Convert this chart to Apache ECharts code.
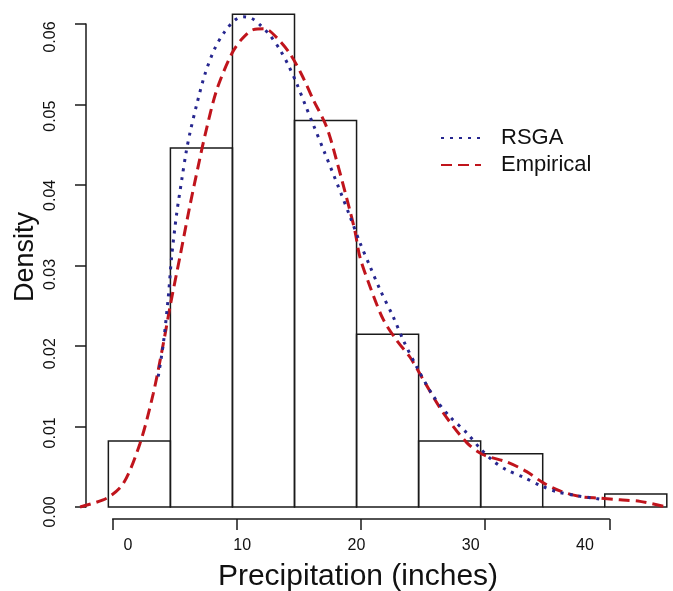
<!DOCTYPE html>
<html>
<head>
<meta charset="utf-8">
<script src="https://cdn.jsdelivr.net/npm/echarts@6/dist/echarts.min.js"></script>
<style>
html,body{margin:0;padding:0;background:#fff;}
#chart{width:673px;height:591px;}
</style>
</head>
<body>
<div id="chart"></div>
<script>
// ---- data ----
const binStarts = [-0.35, 4.65, 9.65, 14.65, 19.65, 24.65, 29.65, 34.65, 39.65];
const binEnds   = [4.65, 9.65, 14.65, 19.65, 24.65, 29.65, 34.65, 39.65, 44.65];
const binDensity = [0.0082, 0.0446, 0.0612, 0.0480, 0.02145, 0.0082, 0.0066, 0.0, 0.0016];

const rsgaX = [3.67, 4.08, 4.48, 4.75, 5.16, 5.56, 5.91, 6.23, 6.77, 7.44, 8.24, 9.05, 9.86, 10.52, 11.20, 11.87, 12.67, 13.48, 14.15, 14.83, 15.50, 16.16, 17.11, 18.18, 19.12, 19.93, 20.73, 21.54, 22.61, 23.42, 24.50, 25.83, 27.18, 28.53, 29.60, 30.67, 31.75, 33.09, 34.43, 35.78, 37.39, 38.73, 39.53];
const rsgaY = [0.0162, 0.0203, 0.0261, 0.0311, 0.0365, 0.0406, 0.0440, 0.0465, 0.0500, 0.0538, 0.0570, 0.0591, 0.0605, 0.0609, 0.0607, 0.0599, 0.0586, 0.0568, 0.0549, 0.0526, 0.0500, 0.0475, 0.0439, 0.0398, 0.0361, 0.0328, 0.0299, 0.0270, 0.0236, 0.0207, 0.0174, 0.0138, 0.0112, 0.0092, 0.0073, 0.0057, 0.0046, 0.0037, 0.0027, 0.0019, 0.0014, 0.0011, 0.0009];

const empX = [-2.63, -0.48, 0.85, 2.20, 3.27, 4.08, 4.67, 5.42, 6.23, 6.90, 7.44, 8.38, 9.59, 10.39, 11.33, 12.27, 13.22, 14.29, 15.23, 16.16, 17.24, 18.05, 19.12, 19.53, 19.93, 20.73, 21.80, 22.88, 23.96, 25.03, 26.64, 28.53, 29.86, 31.75, 33.36, 34.70, 36.04, 37.65, 39.27, 40.88, 42.49, 44.37];
const empY = [0.0000, 0.0011, 0.0029, 0.0079, 0.0141, 0.0203, 0.0253, 0.0311, 0.0375, 0.0424, 0.0462, 0.0518, 0.0563, 0.0581, 0.0593, 0.0594, 0.0583, 0.0563, 0.0537, 0.0506, 0.0472, 0.0430, 0.0368, 0.0342, 0.0310, 0.0274, 0.0233, 0.0207, 0.0186, 0.0158, 0.0117, 0.0080, 0.0065, 0.0056, 0.0044, 0.0030, 0.0020, 0.0013, 0.0011, 0.0009, 0.0007, 0.0001];

const seriesNames = ['RSGA', 'Empirical'];
const xTicks = [0, 10, 20, 30, 40];
const yTicks = [0, 0.01, 0.02, 0.03, 0.04, 0.05, 0.06];
const xTitle = 'Precipitation (inches)';
const yTitle = 'Density';

// ---- chart ----
const chart = echarts.init(document.getElementById('chart'), null, {renderer: 'canvas'});
const FONT = '"Liberation Sans", Arial, sans-serif';
const INK = '#1a1a1a';

const histData = binStarts.map((s, i) => [s, binEnds[i], binDensity[i]]);
const rsgaData = rsgaX.map((x, i) => [x, rsgaY[i]]);
const empData = empX.map((x, i) => [x, empY[i]]);

chart.setOption({
  animation: false,
  backgroundColor: '#ffffff',
  grid: [
    {left: 75.47, right: 1.85, top: 3.875, bottom: 84},   // data
    {left: 112.7, right: 63.7, top: 24, bottom: 84},      // tick axes
    {left: 128, right: 88, top: 37, bottom: 79}           // tick labels
  ],
  xAxis: [
    {gridIndex: 0, type: 'value', min: -3, max: 45, show: false},
    {gridIndex: 1, type: 'value', min: xTicks[0], max: xTicks[xTicks.length-1], interval: 10, offset: 12,
     axisLine: {show: true, onZero: false, lineStyle: {color: INK, width: 1.5}},
     axisTick: {show: true, length: 11, lineStyle: {color: INK, width: 1.5}},
     axisLabel: {show: false}, splitLine: {show: false}},
    {gridIndex: 2, type: 'value', min: xTicks[0], max: xTicks[xTicks.length-1], interval: 10,
     axisLine: {show: false, onZero: false}, axisTick: {show: false}, splitLine: {show: false},
     axisLabel: {show: true, margin: 26, fontSize: 16, fontFamily: FONT, color: '#111'}}
  ],
  yAxis: [
    {gridIndex: 0, type: 'value', min: 0, max: 0.0625, show: false},
    {gridIndex: 1, type: 'value', min: yTicks[0], max: yTicks[yTicks.length-1], interval: 0.01, offset: 26.7,
     axisLine: {show: true, onZero: false, lineStyle: {color: INK, width: 1.5}},
     axisTick: {show: true, length: 11, lineStyle: {color: INK, width: 1.5}},
     axisLabel: {show: false}, splitLine: {show: false}},
    {gridIndex: 2, type: 'value', min: yTicks[0], max: yTicks[yTicks.length-1], interval: 0.01,
     axisLine: {show: false, onZero: false}, axisTick: {show: false}, splitLine: {show: false},
     axisLabel: {show: true, rotate: 90, margin: 69, fontSize: 16, fontFamily: FONT, color: '#111',
       formatter: v => v.toFixed(2)}}
  ],
  legend: {
    orient: 'vertical', left: 435, top: 119.5, itemWidth: 40, itemHeight: 14, itemGap: 0,
    data: seriesNames,
    itemStyle: {opacity: 0, borderWidth: 0},
    textStyle: {fontSize: 22, fontFamily: FONT, color: '#111', lineHeight: 27, padding: [0, 0, 0, 15]}
  },
  graphic: [
    {type: 'text', x: 358, y: 577, style: {text: xTitle, font: '30px "Liberation Sans", Arial, sans-serif', fill: '#111', align: 'center', verticalAlign: 'middle'}},
    {type: 'text', x: 26, y: 257, rotation: Math.PI / 2, style: {text: yTitle, font: '27px "Liberation Sans", Arial, sans-serif', fill: '#111', align: 'center', verticalAlign: 'middle'}}
  ],
  series: [
    {
      type: 'custom', name: 'hist', xAxisIndex: 0, yAxisIndex: 0, data: histData,
      encode: {x: [0, 1], y: 2}, clip: false, silent: true,
      renderItem: function (params, api) {
        const p0 = api.coord([api.value(0), api.value(2)]);
        const p1 = api.coord([api.value(1), 0]);
        return {type: 'rect', shape: {x: p0[0], y: p0[1], width: p1[0] - p0[0], height: p1[1] - p0[1]},
          style: {fill: 'rgba(0,0,0,0)', stroke: INK, lineWidth: 1.5}};
      }
    },
    {
      type: 'line', name: seriesNames[1], xAxisIndex: 0, yAxisIndex: 0, data: empData,
      smooth: 0.3, symbol: 'none', clip: false, color: '#c0141c',
      lineStyle: {color: '#c0141c', width: 3, type: [11, 6]}
    },
    {
      type: 'line', name: seriesNames[0], xAxisIndex: 0, yAxisIndex: 0, data: rsgaData,
      smooth: 0.3, symbol: 'none', clip: false, color: '#26268f',
      lineStyle: {color: '#26268f', width: 3, type: [3, 6]}
    }
  ]
});
</script>
</body>
</html>
